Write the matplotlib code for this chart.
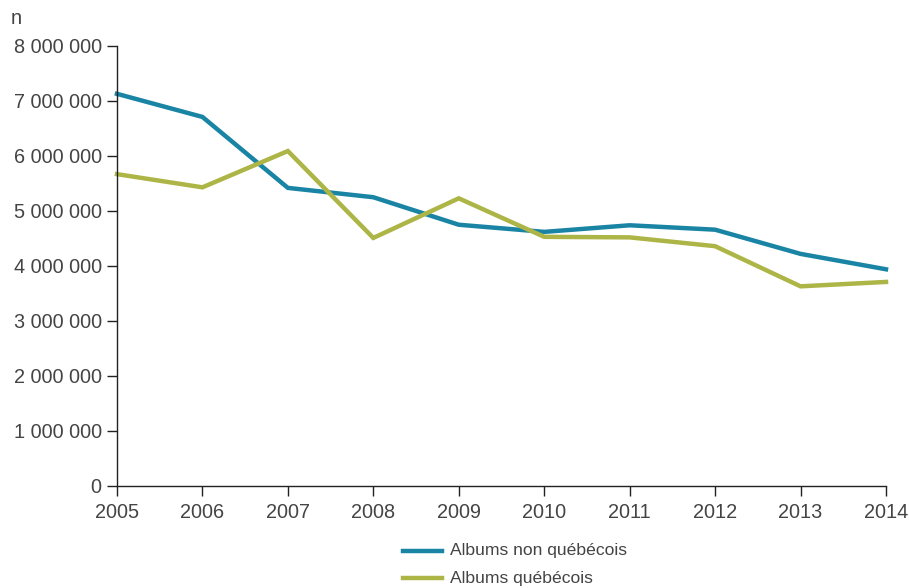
import matplotlib
matplotlib.use("Agg")
import matplotlib.pyplot as plt
from matplotlib.ticker import FuncFormatter

years = [2005, 2006, 2007, 2008, 2009, 2010, 2011, 2012, 2013, 2014]
non_quebecois = [7130000, 6710000, 5420000, 5250000, 4750000, 4620000, 4740000, 4660000, 4220000, 3940000]
quebecois = [5670000, 5430000, 6090000, 4510000, 5230000, 4530000, 4520000, 4360000, 3630000, 3710000]
series_labels = ["Albums non québécois", "Albums québécois"]

blue = "#1a84a5"
olive = "#adb546"
text_col = "#444444"

plt.rcParams["font.family"] = ["Liberation Sans", "DejaVu Sans"]

fig = plt.figure(figsize=(9.09, 5.88), dpi=100)
ax = fig.add_axes([0.1287, 0.1735, 0.9747 - 0.1287, 0.9218 - 0.1735])

ax.plot(years, non_quebecois, color=blue, lw=3.2, solid_joinstyle="miter", clip_on=False)
ax.plot(years, quebecois, color=olive, lw=3.2, solid_joinstyle="miter", clip_on=False)

ax.set_xlim(2005, 2014)
ax.set_ylim(0, 8000000)
ax.set_xticks(years)
ax.set_yticks(range(0, 8000001, 1000000))
ax.yaxis.set_major_formatter(FuncFormatter(lambda v, p: f"{int(v):,}".replace(",", " ")))

for s in ["top", "right"]:
    ax.spines[s].set_visible(False)
for s in ["left", "bottom"]:
    ax.spines[s].set_color("#222222")
    ax.spines[s].set_linewidth(1.0)
ax.tick_params(axis="both", colors="#222222", labelcolor=text_col, labelsize=14.3,
               length=7, width=1.0, direction="out")
ax.tick_params(axis="y", pad=4)
ax.tick_params(axis="x", pad=5)

fig.text(16 / 909, 1 - 19 / 588, "n", fontsize=14.3, color=text_col, ha="center", va="center")

# legend drawn below the axes
lx0, lx1, tx = 403 / 909, 442 / 909, 450 / 909
for ypix, col, lab in [(551, blue, series_labels[0]), (578, olive, series_labels[1])]:
    yf = 1 - ypix / 588
    fig.add_artist(plt.Line2D([lx0, lx1], [yf, yf], color=col, lw=3.2, transform=fig.transFigure))
    fig.text(tx, yf, lab, fontsize=12.6, color=text_col, ha="left", va="center")

fig.savefig("out.png", dpi=100)
